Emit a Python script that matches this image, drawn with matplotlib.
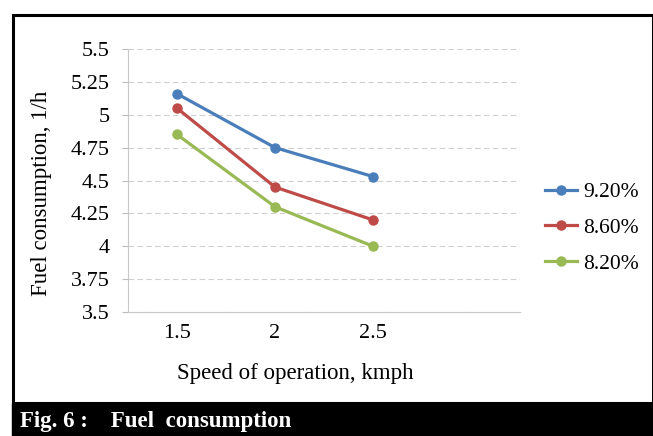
import matplotlib.pyplot as plt
from matplotlib.patches import Rectangle

# data
speeds = ['1.5', '2', '2.5']
fuel_92 = [5.16, 4.75, 4.53]
fuel_86 = [5.05, 4.45, 4.20]
fuel_82 = [4.85, 4.30, 4.00]
series_names = ['9.20%', '8.60%', '8.20%']
colors = ['#4a7ebb', '#be4b48', '#98b954']
y_ticks = [3.5, 3.75, 4, 4.25, 4.5, 4.75, 5, 5.25, 5.5]
y_ticklabels = ['3.5', '3.75', '4', '4.25', '4.5', '4.75', '5', '5.25', '5.5']

plt.rcParams['font.family'] = ['Liberation Serif', 'DejaVu Serif']

fig = plt.figure(figsize=(6.53, 4.36), dpi=100)
W, H = 653, 436

# outer frame and caption bar
fig.patches.append(Rectangle((13 / W, (H - 403) / H), (W - 13) / W, (403 - 15) / H,
                             transform=fig.transFigure, fill=False, edgecolor='black', lw=2.2))
fig.patches.append(Rectangle((12 / W, 0), (W - 12) / W, (H - 403) / H,
                             transform=fig.transFigure, facecolor='black', edgecolor='black'))
fig.text(20 / W, (H - 421) / H, 'Fig. 6 :    Fuel  consumption', color='white',
         fontsize=16.5, fontweight='bold', va='center', ha='left')

ax = fig.add_axes([128 / W, (H - 312) / H, (520 - 128) / W, (312 - 49) / H])
x = list(range(len(speeds)))
for vals, name, c in zip([fuel_92, fuel_86, fuel_82], series_names, colors):
    ax.plot(x, vals, color=c, lw=2.3, marker='o', markersize=6.5, label=name)

ax.set_xlim(-0.5, 3.5)
ax.set_ylim(3.5, 5.5)
ax.set_xticks(x)
ax.set_xticklabels(speeds)
ax.set_yticks(y_ticks)
ax.set_yticklabels(y_ticklabels)
ax.tick_params(axis='x', length=0, labelsize=16, pad=9)
ax.tick_params(axis='y', length=4, color='#bbbbbb', labelsize=16, pad=9)
ax.yaxis.grid(True, color='#d0d0d0', linestyle=(0, (5, 3)), lw=0.8)
ax.set_axisbelow(True)
for s in ['top', 'right']:
    ax.spines[s].set_visible(False)
ax.spines['left'].set_color('#c8c8c8')
ax.spines['bottom'].set_color('#c8c8c8')

ax.set_xlabel('Speed of operation, kmph', fontsize=16.5)
ax.set_ylabel('Fuel consumption, 1/h', fontsize=16.5)
ax.xaxis.set_label_coords((295.5 - 128) / (520 - 128), -(373 - 312) / (312 - 49), transform=ax.transAxes)
ax.yaxis.set_label_coords(-(128 - 42) / (520 - 128), (312 - 193) / (312 - 49), transform=ax.transAxes)
ax.xaxis.label.set_va('center')
ax.yaxis.label.set_va('center')

ax.legend(loc='center left', bbox_to_anchor=(536 / W, (H - 228) / H),
          bbox_transform=fig.transFigure, frameon=False, fontsize=15.5,
          handlelength=1.5, handletextpad=0.3, labelspacing=0.72, borderaxespad=0)

fig.savefig('out.png', dpi=100)
